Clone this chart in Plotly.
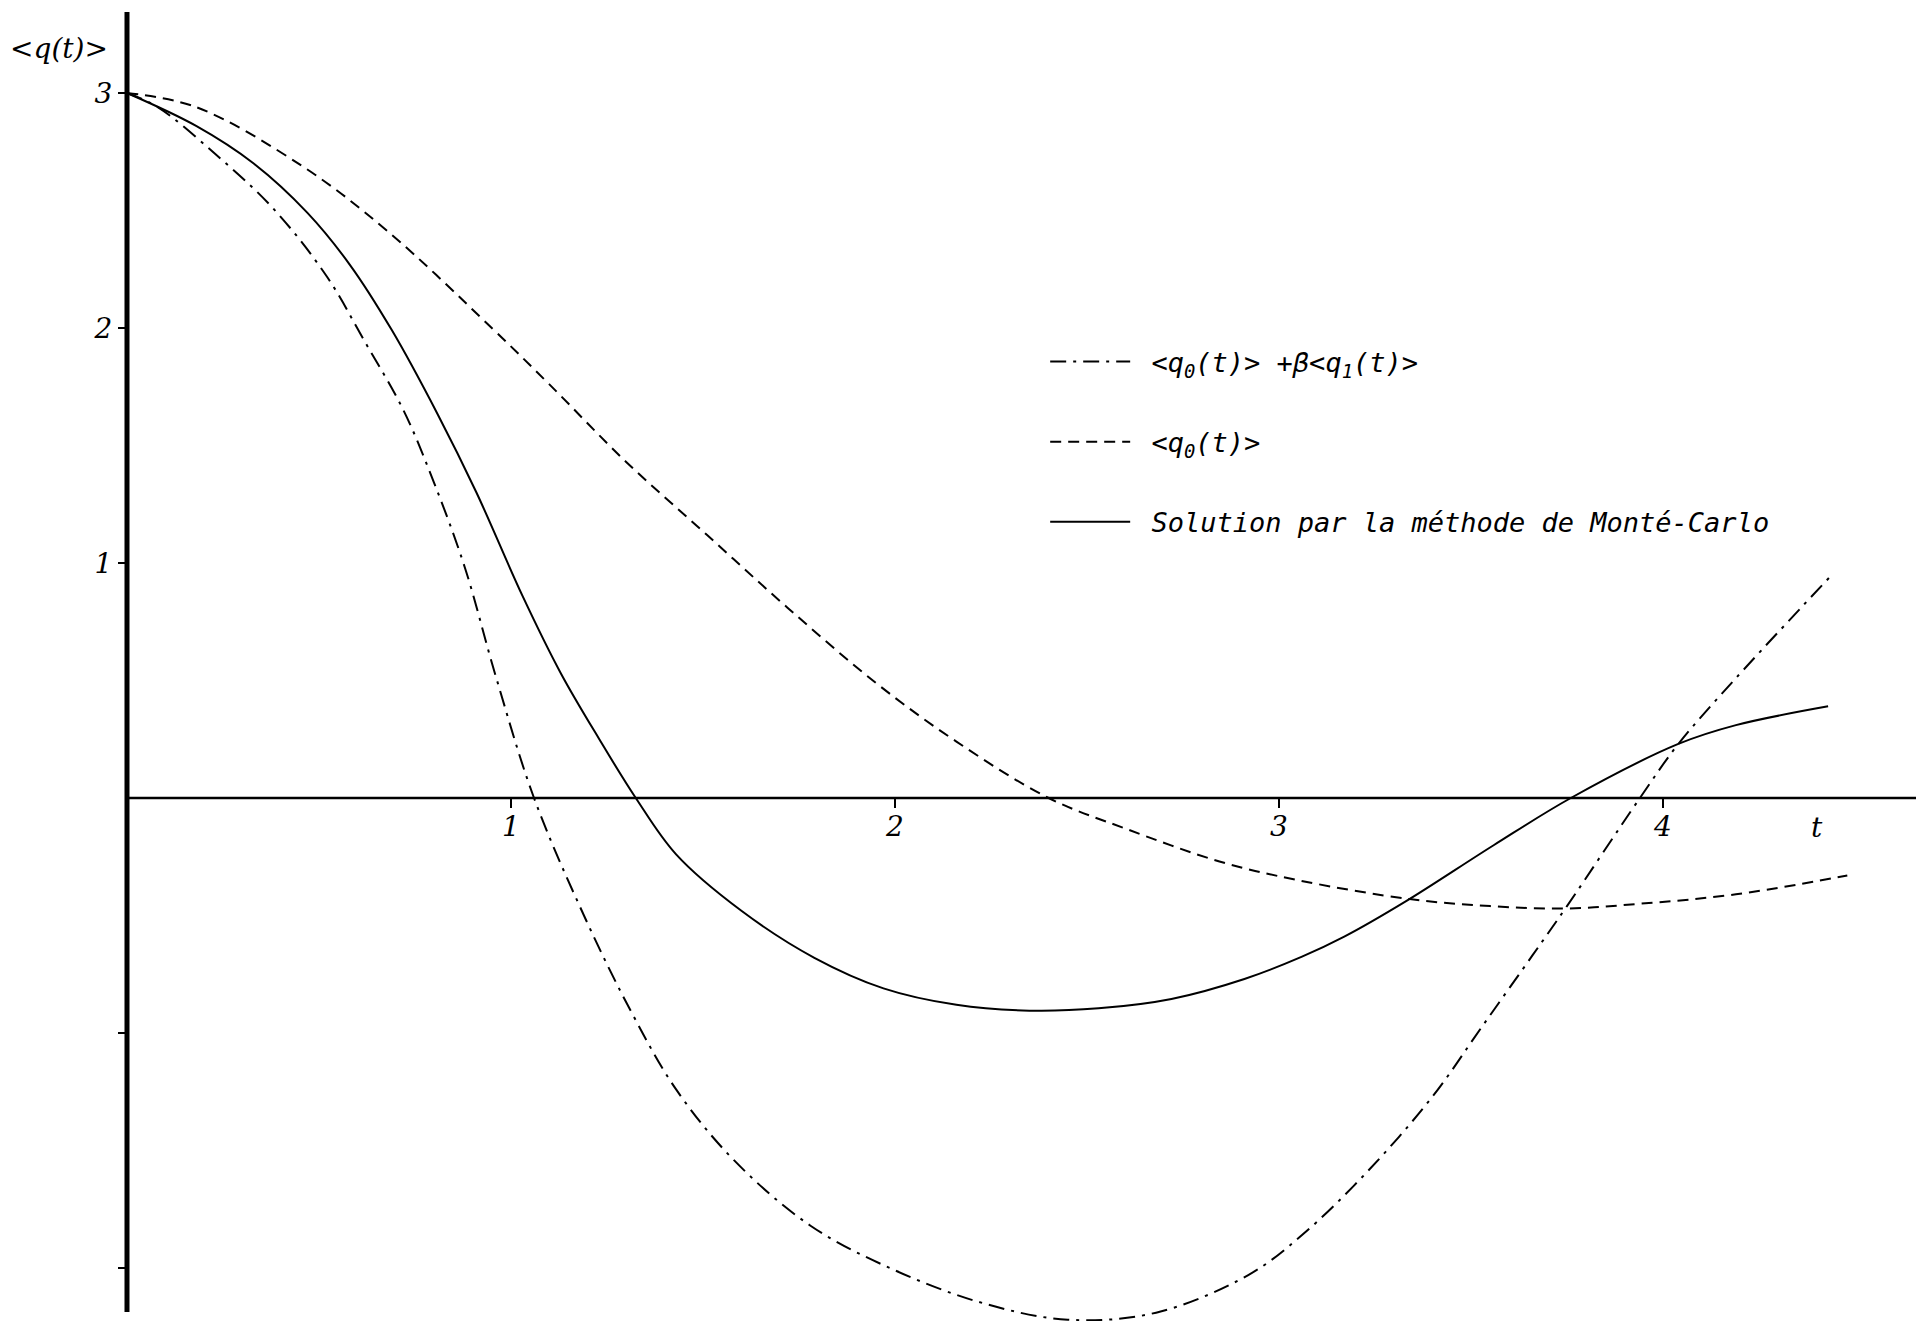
import plotly.graph_objects as go

# <q0(t)> + beta <q1(t)>  (dash-dot)
t_pert = [0, 0.08, 0.23, 0.38, 0.52, 0.62, 0.72, 0.80, 0.88, 0.96, 1.06, 1.19, 1.31, 1.43,
          1.58, 1.78, 2.0, 2.23, 2.45, 2.68, 2.92, 3.06, 3.23, 3.40, 3.53, 3.66, 3.75, 3.94,
          4.04, 4.19, 4.44]
q_pert = [3, 2.94, 2.74, 2.51, 2.22, 1.94, 1.65, 1.34, 0.98, 0.52, 0.0, -0.50, -0.90, -1.24,
          -1.54, -1.82, -2.01, -2.15, -2.22, -2.19, -2.03, -1.86, -1.59, -1.27, -0.97, -0.67,
          -0.46, 0.0, 0.23, 0.51, 0.95]

# <q0(t)>  (dashed)
t_q0 = [0, 0.18, 0.46, 0.68, 0.95, 1.10, 1.30, 1.51, 1.72, 1.95, 2.16, 2.40, 2.60, 2.845,
        3.05, 3.34, 3.55, 3.75, 3.94, 4.19, 4.48]
q_q0 = [3, 2.94, 2.685, 2.41, 2.00, 1.76, 1.43, 1.12, 0.81, 0.49, 0.24, 0.0, -0.13, -0.27,
        -0.35, -0.43, -0.46, -0.47, -0.45, -0.41, -0.33]

# Monte-Carlo solution (solid)
t_mc = [0, 0.18, 0.33, 0.47, 0.58, 0.69, 0.81, 0.91, 1.03, 1.13, 1.23, 1.325, 1.43, 1.60,
        1.79, 1.97, 2.16, 2.35, 2.53, 2.72, 2.91, 3.06, 3.17, 3.33, 3.56, 3.76, 4.04, 4.19,
        4.43]
q_mc = [3, 2.86, 2.70, 2.49, 2.27, 1.99, 1.63, 1.30, 0.86, 0.53, 0.25, 0.0, -0.24, -0.48,
        -0.68, -0.81, -0.88, -0.905, -0.895, -0.855, -0.77, -0.675, -0.59, -0.44, -0.20,
        0.0, 0.23, 0.31, 0.39]

x_ticks = [1, 2, 3, 4]
x_ticktext = ["1", "2", "3", "4"]
y_ticks = [1, 2, 3]
y_ticktext = ["1", "2", "3"]
y_minor_ticks = [-2, -1]

names = ["\u00a0&lt;q<sub>0</sub>(t)&gt; +β&lt;q<sub>1</sub>(t)&gt;",
         "\u00a0&lt;q<sub>0</sub>(t)&gt;",
         "\u00a0Solution par la méthode de Monté-Carlo"]

x_range = [-0.3307, 4.6589]
y_range = [-2.2255, 3.3957]

fig = go.Figure()
fig.add_trace(go.Scatter(x=t_pert, y=q_pert, mode="lines", name=names[0], legendgroup="a",
                         line=dict(color="black", width=2, dash="16px,7px,3px,7px", shape="spline")))
fig.add_trace(go.Scatter(x=t_q0, y=q_q0, mode="lines", name=names[1], legendgroup="b",
                         line=dict(color="black", width=2, dash="11px,7px", shape="spline")))
fig.add_trace(go.Scatter(x=t_mc, y=q_mc, mode="lines", name=names[2], legendgroup="c",
                         line=dict(color="black", width=2, shape="spline")))

# axis lines
fig.add_shape(type="line", x0=0, x1=0, y0=-2.187, y1=3.345, line=dict(color="black", width=5))
fig.add_shape(type="line", x0=0, x1=x_range[1], y0=0, y1=0, line=dict(color="black", width=2.5))

tick_font = dict(family="DejaVu Serif", size=28, color="black", style="italic")
fig.update_xaxes(range=x_range, showgrid=False, zeroline=False, showline=False,
                 anchor="free", position=(0 - y_range[0]) / (y_range[1] - y_range[0]),
                 tickmode="array", tickvals=x_ticks, ticktext=x_ticktext,
                 ticks="outside", ticklen=9, tickwidth=2, tickcolor="black",
                 ticklabelstandoff=-6, tickfont=tick_font)
fig.update_yaxes(range=y_range, showgrid=False, zeroline=False, showline=False,
                 anchor="free", position=(0 - x_range[0]) / (x_range[1] - x_range[0]),
                 tickmode="array", tickvals=y_ticks, ticktext=y_ticktext,
                 ticks="outside", ticklen=9, tickwidth=2, tickcolor="black",
                 minor=dict(tickmode="array", tickvals=y_minor_ticks, ticks="outside",
                            ticklen=9, tickwidth=2, tickcolor="black", showgrid=False),
                 tickfont=tick_font)

fig.add_annotation(x=-0.178, y=3.19, text="&lt;q(t)&gt;", showarrow=False,
                   font=dict(family="DejaVu Serif", size=28, color="black", style="italic"))
fig.add_annotation(x=4.40, y=-0.125, text="t", showarrow=False,
                   font=dict(family="DejaVu Serif", size=28, color="black", style="italic"))

fig.update_layout(
    width=1916, height=1321,
    margin=dict(l=0, r=0, t=0, b=0),
    paper_bgcolor="white", plot_bgcolor="white",
    showlegend=True,
    legend=dict(x=0.5455, y=0.7445, xanchor="left", yanchor="top",
                bgcolor="rgba(0,0,0,0)", itemwidth=80, tracegroupgap=42,
                font=dict(family="DejaVu Sans Mono", size=27, color="black", style="italic")),
)

fig.write_html("out.html", config={"displayModeBar": False},
               post_script="document.body.style.margin='0';")
